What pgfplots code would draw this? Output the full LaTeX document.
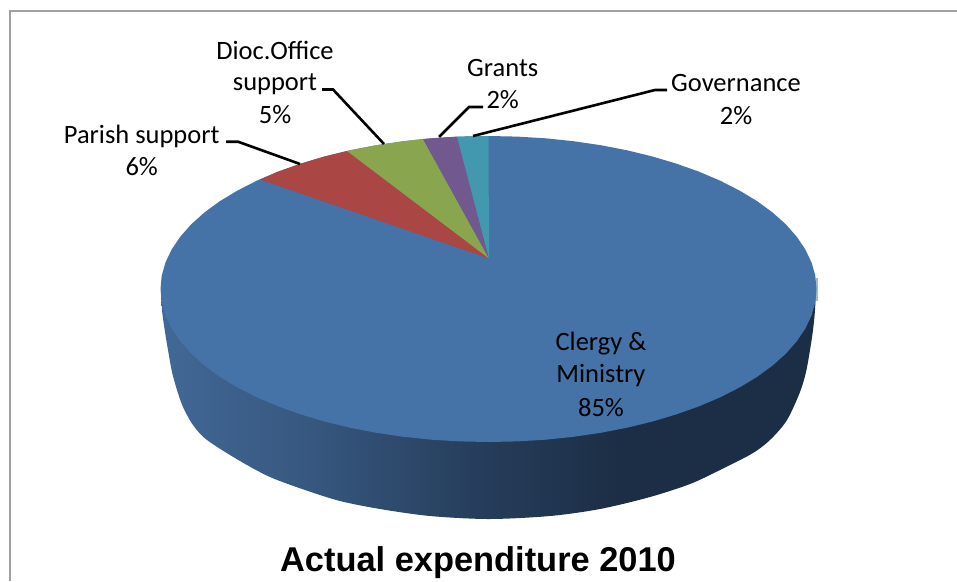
\documentclass[border=0pt]{standalone}
\usepackage{pgfplots}
\pgfplotsset{compat=1.18}
\usepackage{fontspec}
\setmainfont{Carlito}
\newfontfamily\titlefont{Liberation Sans}
\definecolor{cblue}{HTML}{4572A7}
\definecolor{cred}{HTML}{AA4643}
\definecolor{cgreen}{HTML}{89A54E}
\definecolor{cpurple}{HTML}{71588F}
\definecolor{cteal}{HTML}{4198AF}
\definecolor{cframe}{HTML}{A0A0A0}
\definecolor{sa}{RGB}{66,104,150}
\definecolor{sb}{RGB}{55,88,128}
\definecolor{sc}{RGB}{38,62,92}
\definecolor{sd}{RGB}{28,46,69}
\pgfdeclarehorizontalshading{pieside}{100bp}{
  color(0bp)=(sa);
  color(25bp)=(sa);
  color(36bp)=(sb);
  color(49bp)=(sc);
  color(60bp)=(sd);
  color(100bp)=(sd)}
\newcommand{\lab}[3]{\node[anchor=base,font=\fontsize{26.5}{32}\selectfont,inner sep=0pt] at (axis cs:#1,#2) {#3};}
\begin{document}
\begin{tikzpicture}
\useasboundingbox (0,0) rectangle (957pt,581pt);
\begin{axis}[at={(0,0)},anchor=south west,scale only axis,width=957pt,height=581pt,
  xmin=0,xmax=957,ymin=0,ymax=581,y dir=reverse,hide axis,clip=false]
% frame
\addplot[cframe,line width=2pt] coordinates {(9.5,581) (9.5,10.7) (957,10.7)};
% side wall
\addplot[shading=pieside,draw=none,smooth,tension=0.5] coordinates {
(161,285)(162,310)(165,332)(168,350)(172,372)(177,390)(183,407)(193,425)(207,440)(240,461)
(270,477)(305,490)(340,501)(380,509)(430,516)(489,519)(550,516)(600,509)(650,497)(690,484)
(720,470)(753,453)(771,439)(787,420)(800,392)(806,372)(810,350)(813,330)(815,310)(816,285)} --cycle;
% artefact at the right edge
\addplot[color=cblue!50!white,line width=1.5pt] coordinates {(817,278)(817,301)};
% blue slice (85%)
\addplot[fill=cblue,draw=none] coordinates {
(816.5,289)(815.3,302.3)(811.5,315.6)(805.3,328.6)(796.7,341.3)(785.8,353.7)(772.6,365.5)(757.2,376.8)
(739.8,387.3)(720.4,397.2)(699.3,406.2)(676.6,414.3)(652.5,421.5)(627.1,427.7)(600.7,432.8)(573.4,436.8)
(545.5,439.7)(517.1,441.4)(488.5,442)(459.9,441.4)(431.5,439.7)(403.6,436.8)(376.3,432.8)(349.9,427.7)
(324.5,421.5)(300.4,414.3)(277.7,406.2)(256.6,397.2)(237.2,387.3)(219.8,376.8)(204.4,365.5)(191.2,353.7)
(180.3,341.3)(171.7,328.6)(165.5,315.6)(161.7,302.3)(160.5,289)(161.7,275.7)(165.5,262.4)(171.7,249.4)
(180.3,236.7)(191.2,224.3)(204.4,212.5)(219.8,201.2)(237.2,190.7)(256.6,180.8)(277.7,171.8)(300.4,163.7)
(324.5,156.5)(349.9,150.3)(376.3,145.2)(403.6,141.2)(431.5,138.3)(459.9,136.6)(488.5,136)(517.1,136.6)
(545.5,138.3)(573.4,141.2)(600.7,145.2)(627.1,150.3)(652.5,156.5)(676.6,163.7)(699.3,171.8)(720.4,180.8)
(739.8,190.7)(757.2,201.2)(772.6,212.5)(785.8,224.3)(796.7,236.7)(805.3,249.4)(811.5,262.4)(815.3,275.7)} --cycle;
% red 6%
\addplot[fill=cred,draw=none] coordinates {(489,258.5)(260,179.5)(277.7,171.8)(300.4,163.7)(324.5,156.5)(347,151)} --cycle;
% green 5%
\addplot[fill=cgreen,draw=none] coordinates {(489,258.5)(347,151)(349.9,150.3)(376.3,145.2)(403.6,141.2)(423,139)} --cycle;
% purple 2%
\addplot[fill=cpurple,draw=none] coordinates {(489,258.5)(423,139)(431.5,138.3)(457,136.6)} --cycle;
% teal 2%
\addplot[fill=cteal,draw=none] coordinates {(489,258.5)(457,136.6)(459.9,136.6)(488.5,136)} --cycle;
% leaders
\addplot[black,line width=2.6pt] coordinates {(226,141.7)(238,141.7)(300,164)};
\addplot[black,line width=2.6pt] coordinates {(322,89.5)(333,89.5)(384,144)};
\addplot[black,line width=2.6pt] coordinates {(483,107)(469,107)(439,137)};
\addplot[black,line width=2.6pt] coordinates {(473,136)(655,90)(667,90)};
% labels
\lab{141.7}{143}{Parish support}
\lab{141.7}{175}{6\%}
\lab{275}{59}{Dioc.Office}
\lab{275}{90.5}{support}
\lab{275}{123.5}{5\%}
\lab{502.7}{76}{Grants}
\lab{502.7}{108.5}{2\%}
\lab{736}{91.5}{Governance}
\lab{736}{124.5}{2\%}
\lab{601}{350.5}{Clergy \&}
\lab{601}{382.5}{Ministry}
\lab{601}{416}{85\%}
\node[anchor=base,inner sep=0pt,font=\titlefont\bfseries\fontsize{34.4}{36}\selectfont] at (axis cs:478,571) {Actual expenditure 2010};
\end{axis}
\end{tikzpicture}
\end{document}
